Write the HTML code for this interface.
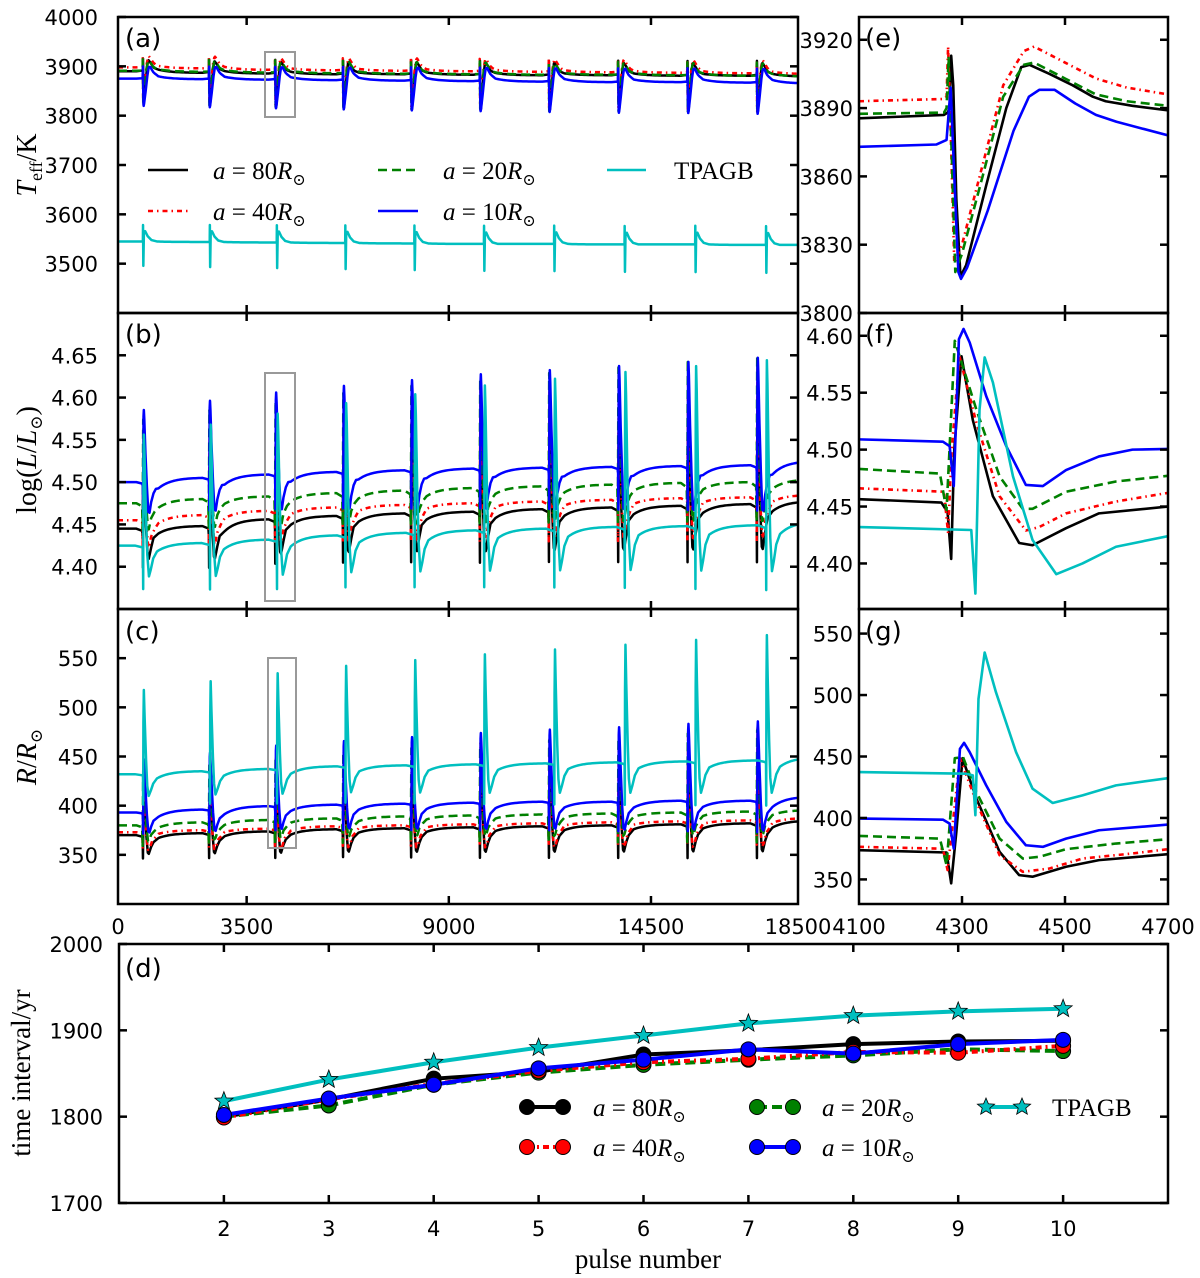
<!DOCTYPE html>
<html><head><meta charset="utf-8">
<style>
html,body{margin:0;padding:0;background:#fff;}
svg{display:block;}
.tk{font-family:"DejaVu Sans","Liberation Sans",sans-serif;font-size:21px;fill:#000;}
.pl{font-family:"DejaVu Sans","Liberation Sans",sans-serif;font-size:26px;fill:#000;}
.sf{font-family:"Liberation Serif","DejaVu Serif",serif;fill:#000;}
</style></head>
<body>
<svg id="fig" width="1200" height="1278" viewBox="0 0 1200 1278" xmlns="http://www.w3.org/2000/svg">
<defs>
<clipPath id="cA"><rect x="118" y="17" width="680" height="296"/></clipPath>
<clipPath id="cB"><rect x="118" y="313" width="680" height="296"/></clipPath>
<clipPath id="cC"><rect x="118" y="609" width="680" height="295"/></clipPath>
<clipPath id="cE"><rect x="859" y="17" width="309" height="296"/></clipPath>
<clipPath id="cF"><rect x="859" y="313" width="309" height="296"/></clipPath>
<clipPath id="cG"><rect x="859" y="609" width="309" height="295"/></clipPath>
<clipPath id="cD"><rect x="119" y="944" width="1049" height="259"/></clipPath>
</defs>
<g id="layer"></g>
</svg>
<script>
// ===== data: pulses =====
const pulseT = [680, 2480, 4280, 6124, 7976, 9848, 11725, 13609, 15496, 17384];
const cyanExtra = [-41, -23, 0, 19, 47, 69, 100, 133, 168, 205];
const ampTeff = [0.95, 0.98, 1, 1.02, 1.04, 1.05, 1.06, 1.07, 1.08, 1.09];
const ampL = [0.88, 0.94, 1, 1.05, 1.1, 1.15, 1.19, 1.23, 1.27, 1.31];
const ampR = [0.88, 0.94, 1, 1.05, 1.1, 1.15, 1.19, 1.23, 1.27, 1.31];

// baselines (pre-pulse levels, 10 pulses + end)
const teffBaseBlack = [3890, 3887, 3885.5, 3884, 3884, 3883, 3882, 3882, 3881, 3881, 3880];
const teffBaseRed   = [3898, 3896, 3893, 3892, 3891, 3890, 3889, 3888, 3887, 3886, 3885];
const teffBaseGreen = [3891, 3889, 3887.5, 3886, 3885, 3884, 3883, 3883, 3882, 3881, 3880];
const teffBaseBlue  = [3875, 3874, 3873, 3872, 3871, 3870, 3869, 3868, 3868, 3867, 3866];
const teffBaseCyan  = [3545, 3544, 3543, 3542, 3541, 3540, 3540, 3539, 3539, 3538, 3538];
const lBaseBlack = [4.445, 4.448, 4.456, 4.460, 4.463, 4.465, 4.468, 4.470, 4.472, 4.474, 4.476];
const lBaseRed   = [4.455, 4.461, 4.466, 4.470, 4.473, 4.475, 4.477, 4.479, 4.481, 4.482, 4.484];
const lBaseGreen = [4.475, 4.480, 4.483, 4.487, 4.490, 4.493, 4.495, 4.497, 4.499, 4.500, 4.502];
const lBaseBlue  = [4.500, 4.505, 4.509, 4.512, 4.514, 4.516, 4.517, 4.518, 4.519, 4.520, 4.523];
const lBaseCyan  = [4.425, 4.428, 4.432, 4.437, 4.440, 4.443, 4.445, 4.447, 4.448, 4.449, 4.450];
const rBaseBlack = [370, 372, 373.8, 376, 377, 378, 379, 380, 381, 382, 384];
const rBaseRed   = [373, 375, 376.5, 379, 380, 381, 382, 383, 384, 385, 387];
const rBaseGreen = [380, 383, 385.4, 387, 389, 390, 391, 392, 393, 394, 395];
const rBaseBlue  = [393, 396, 399.5, 401, 402, 403, 404, 404, 405, 405, 408];
const rBaseCyan  = [432, 435, 437.3, 440, 441, 442, 443, 444, 445, 446, 447];

const teffBlackT = [4100,4265,4272,4276,4279,4283,4289,4297,4308,4347,4386,4415,4431,4470,4515,4554,4579,4631,4700];
const teffBlackV = [3885.5,3887,3888,3890,3913,3900,3850,3816,3821,3856,3890,3908,3909,3905,3900,3895,3893,3891,3889];
const teffRedT = [4100,4265,4270,4273,4278,4285,4300,4340,4380,4420,4440,4500,4560,4620,4700];
const teffRedV = [3893,3894,3895,3917,3880,3822,3830,3865,3900,3915,3917,3910,3903,3899,3896];
const teffGreenT = [4100,4265,4270,4274,4280,4287,4300,4340,4380,4420,4440,4500,4560,4620,4700];
const teffGreenV = [3887.5,3888,3890,3912,3870,3818,3826,3860,3895,3909,3910,3903,3896,3893,3891];
const teffBlueT = [4100,4250,4270,4278,4285,4293,4298,4310,4350,4400,4430,4450,4480,4520,4560,4600,4650,4700];
const teffBlueV = [3873,3874,3876,3899,3860,3818,3815,3820,3845,3880,3895,3898,3898,3892,3887,3884,3881,3878];
const teffCyanT = [4100,4318,4322,4330,4345,4380,4450,4550,4700];
const teffCyanV = [3545,3545,3580,3493,3562,3567,3556,3548,3545];

const lBlackT = [4100,4260,4272,4279,4285,4299,4321,4360,4411,4437,4502,4566,4700];
const lBlackV = [4.4565,4.4535,4.445,4.404,4.50,4.582,4.526,4.459,4.418,4.416,4.431,4.444,4.45];
const lRedT = [4100,4265,4273,4280,4295,4328,4373,4424,4450,4502,4599,4700];
const lRedV = [4.466,4.463,4.4265,4.50,4.582,4.5235,4.459,4.429,4.432,4.444,4.4544,4.462];
const lGreenT = [4100,4257,4270,4286,4328,4373,4418,4437,4502,4599,4700];
const lGreenV = [4.483,4.479,4.447,4.5956,4.535,4.4765,4.448,4.448,4.463,4.472,4.477];
const lBlueT = [4100,4263,4276,4284,4294,4303,4315,4347,4386,4424,4457,4502,4566,4631,4700];
const lBlueV = [4.509,4.507,4.503,4.468,4.597,4.606,4.594,4.547,4.503,4.469,4.468,4.482,4.494,4.50,4.5006];
const lCyanT = [4100,4318,4326,4334,4344,4360,4399,4437,4483,4534,4599,4700];
const lCyanV = [4.432,4.4294,4.3735,4.535,4.581,4.559,4.4765,4.4206,4.3906,4.40,4.4147,4.424];

const rBlackT = [4100,4270,4279,4289,4301,4328,4373,4411,4437,4502,4566,4700];
const rBlackV = [373.8,371.9,346.8,388.6,448.6,415.7,372.4,353.5,352.2,360.3,365.7,370.5];
const rRedT = [4100,4263,4272,4296,4328,4373,4418,4470,4534,4631,4700];
const rRedV = [376.5,375,357.6,448.6,413,369.7,356.2,358.9,367,371.1,374.6];
const rGreenT = [4100,4257,4270,4286,4302,4328,4373,4418,4450,4502,4599,4700];
const rGreenV = [385.4,383.2,361.6,448.6,449.5,421.1,383.2,367,368.4,374.6,379.2,382.7];
const rBlueT = [4100,4263,4276,4284,4296,4304,4315,4347,4386,4424,4457,4502,4566,4700];
const rBlueV = [399.5,398.6,395.4,375.1,456.2,461.1,453.5,426.5,396.8,377.8,376.5,383.2,390,394.6];
const rCyanT = [4100,4308,4321,4326,4332,4344,4366,4405,4437,4476,4534,4599,4700];
const rCyanV = [437.3,436,434.6,402.2,496.8,534.6,502.2,453.5,423.8,412.2,418.4,426.5,432.4];

// panel d
const pulseNum = [2, 3, 4, 5, 6, 7, 8, 9, 10];
const dTpagb = [1818, 1843, 1863, 1880, 1894, 1908, 1917, 1922, 1925];
const d80 = [1800, 1820, 1844, 1852, 1872, 1877, 1884, 1887, 1888];
const d40 = [1799, 1820, 1838, 1853, 1863, 1867, 1875, 1874, 1882];
const d20 = [1800, 1813, 1837, 1851, 1860, 1866, 1871, 1878, 1876];
const d10 = [1802, 1821, 1837, 1856, 1866, 1878, 1873, 1884, 1889];

// tick labels
const leftXTicks = [0, 3500, 9000, 14500, 18500];
const rightXTicks = [4100, 4300, 4500, 4700];
const aYTicks = [3500, 3600, 3700, 3800, 3900, 4000];
const bYTicks = [4.40, 4.45, 4.50, 4.55, 4.60, 4.65];
const cYTicks = [350, 400, 450, 500, 550];
const eYTicks = [3800, 3830, 3860, 3890, 3920];
const fYTicks = [4.40, 4.45, 4.50, 4.55, 4.60];
const gYTicks = [350, 400, 450, 500, 550];
const dYTicks = [1700, 1800, 1900, 2000];

// ===== drawing =====
const NS = "http://www.w3.org/2000/svg";
const layer = document.getElementById('layer');
function mk(tag, attrs, parent) {
  const e = document.createElementNS(NS, tag);
  for (const k in attrs) e.setAttribute(k, attrs[k]);
  (parent || layer).appendChild(e);
  return e;
}
function panel(x0, x1, y0, y1, xd, yd) {
  return {x0, x1, y0, y1,
    sx: v => x0 + (v - xd[0]) / (xd[1] - xd[0]) * (x1 - x0),
    sy: v => y1 - (v - yd[0]) / (yd[1] - yd[0]) * (y1 - y0)};
}
const PA = panel(118, 798, 17, 313, [0, 18500], [3400, 4000]);
const PB = panel(118, 798, 313, 609, [0, 18500], [4.35, 4.70]);
const PC = panel(118, 798, 609, 904, [0, 18500], [300, 600]);
const PE = panel(859, 1168, 17, 313, [4100, 4700], [3800, 3930]);
const PF = panel(859, 1168, 313, 609, [4100, 4700], [4.36, 4.62]);
const PG = panel(859, 1168, 609, 904, [4100, 4700], [330, 570]);
const PD = panel(119, 1168, 944, 1203, [1, 11], [1700, 2000]);

const COL = {black: '#000000', red: '#ff0000', green: '#008000', blue: '#0000ff', cyan: '#00bfbf'};
const DASH = {black: 'none', red: '5,4,1.5,4', green: '9,5', blue: 'none', cyan: 'none'};

function buildLeft(tT, tV, bases, amps, extra) {
  const pts = [[0, bases[0]]];
  const b0 = tV[0];
  for (let i = 0; i < pulseT.length; i++) {
    const Ti = pulseT[i] + (extra ? extra[i] : 0);
    const sh = Ti - 4280;
    let vEnd = 0, tEnd = 0;
    for (let k = 0; k < tT.length; k++) {
      const v = bases[i] + (tV[k] - b0) * amps[i];
      pts.push([tT[k] + sh, v]);
      vEnd = v; tEnd = tT[k] + sh;
    }
    const segEnd = i < pulseT.length - 1 ? pulseT[i + 1] + (extra ? extra[i + 1] : 0) - 180 : 18500;
    const U = segEnd - tEnd;
    if (U > 0) {
      const den = 1 - Math.exp(-U / 350);
      for (let j = 1; j <= 24; j++) {
        const u = U * j / 24;
        const f = (1 - Math.exp(-u / 350)) / den;
        pts.push([tEnd + u, vEnd + (bases[i + 1] - vEnd) * f]);
      }
    }
  }
  return pts;
}
function drawLine(P, pts, color, dash, w, clip, name) {
  const d = pts.map((p, i) => (i ? 'L' : 'M') + P.sx(p[0]).toFixed(2) + ',' + P.sy(p[1]).toFixed(2)).join('');
  const el = mk('path', {d: d, fill: 'none', stroke: COL[color], 'stroke-width': w, 'stroke-dasharray': DASH[color], 'stroke-linejoin': 'round', 'clip-path': 'url(#' + clip + ')'});
  
  
  return el;
}
function zip(T, V) { return T.map((t, i) => [t, V[i]]); }

const order = ['black', 'red', 'green', 'blue', 'cyan'];
const teffSets = {black: [teffBlackT, teffBlackV, teffBaseBlack], red: [teffRedT, teffRedV, teffBaseRed], green: [teffGreenT, teffGreenV, teffBaseGreen], blue: [teffBlueT, teffBlueV, teffBaseBlue], cyan: [teffCyanT, teffCyanV, teffBaseCyan]};
const lSets = {black: [lBlackT, lBlackV, lBaseBlack], red: [lRedT, lRedV, lBaseRed], green: [lGreenT, lGreenV, lBaseGreen], blue: [lBlueT, lBlueV, lBaseBlue], cyan: [lCyanT, lCyanV, lBaseCyan]};
const rSets = {black: [rBlackT, rBlackV, rBaseBlack], red: [rRedT, rRedV, rBaseRed], green: [rGreenT, rGreenV, rBaseGreen], blue: [rBlueT, rBlueV, rBaseBlue], cyan: [rCyanT, rCyanV, rBaseCyan]};
const names = {black: 'a80', red: 'a40', green: 'a20', blue: 'a10', cyan: 'tpagb'};
order.forEach(c => {
  const ex = c === 'cyan' ? cyanExtra : null;
  const s1 = teffSets[c], s2 = lSets[c], s3 = rSets[c];
  drawLine(PA, buildLeft(s1[0], s1[1], s1[2], ampTeff, ex), c, DASH[c], 2.5, 'cA', 'teff-line-' + names[c]);
  drawLine(PB, buildLeft(s2[0], s2[1], s2[2], ampL, ex), c, DASH[c], 2.5, 'cB', 'lum-line-' + names[c]);
  drawLine(PC, buildLeft(s3[0], s3[1], s3[2], ampR, ex), c, DASH[c], 2.5, 'cC', 'radius-line-' + names[c]);
  drawLine(PE, zip(s1[0], s1[1]), c, DASH[c], 2.6, 'cE', 'teff-zoom-line-' + names[c]);
  drawLine(PF, zip(s2[0], s2[1]), c, DASH[c], 2.6, 'cF', 'lum-zoom-line-' + names[c]);
  drawLine(PG, zip(s3[0], s3[1]), c, DASH[c], 2.6, 'cG', 'radius-zoom-line-' + names[c]);
});

[[265, 52, 30, 65], [265, 373, 30, 228], [268, 658, 28, 190]].forEach((b, i) => {
  const r = mk('rect', {x: b[0], y: b[1], width: b[2], height: b[3], fill: 'none', stroke: '#999', 'stroke-width': 2});
  
  
});

const dSets = [['black', d80, 'a80'], ['green', d20, 'a20'], ['red', d40, 'a40'], ['blue', d10, 'a10']];
const tp = mk('path', {d: pulseNum.map((n, i) => (i ? 'L' : 'M') + PD.sx(n) + ',' + PD.sy(dTpagb[i])).join(''), fill: 'none', stroke: COL.cyan, 'stroke-width': 4});


function star(cx, cy, R, r, parent, name) {
  let s = '';
  for (let k = 0; k < 10; k++) {
    const a = -Math.PI / 2 + k * Math.PI / 5;
    const rr = k % 2 ? r : R;
    s += (cx + rr * Math.cos(a)).toFixed(2) + ',' + (cy + rr * Math.sin(a)).toFixed(2) + ' ';
  }
  const el = mk('polygon', {points: s, fill: COL.cyan, stroke: '#000', 'stroke-width': 0.8}, parent);
  
  
}
dSets.forEach(s => {
  const el = mk('path', {d: pulseNum.map((n, i) => (i ? 'L' : 'M') + PD.sx(n) + ',' + PD.sy(s[1][i])).join(''), fill: 'none', stroke: COL[s[0]], 'stroke-width': 4, 'stroke-dasharray': s[0] === 'red' ? '6,4,2,4' : (s[0] === 'green' ? '10,5' : 'none')});
  
  
});
dSets.forEach(s => {
  pulseNum.forEach((n, i) => {
    const c = mk('circle', {cx: PD.sx(n), cy: PD.sy(s[1][i]), r: 7.5, fill: COL[s[0]], stroke: '#000', 'stroke-width': 1});
    
    
  });
});
pulseNum.forEach((n, i) => star(PD.sx(n), PD.sy(dTpagb[i]), 9.5, 4, layer, 'interval-point-tpagb'));

function frame(P, name, yt, xt, fmt, labX, showX, xfmt) {
  const r = mk('rect', {x: P.x0, y: P.y0, width: P.x1 - P.x0, height: P.y1 - P.y0, fill: 'none', stroke: '#000', 'stroke-width': 2.5});
  
  
  yt.forEach(v => {
    const y = P.sy(v);
    mk('line', {x1: P.x0, x2: P.x0 + 8, y1: y, y2: y, stroke: '#000', 'stroke-width': 2.5});
    mk('line', {x1: P.x1 - 8, x2: P.x1, y1: y, y2: y, stroke: '#000', 'stroke-width': 2.5});
    const t = mk('text', {x: labX, y: y + 8, 'text-anchor': 'end', class: 'tk'});
    t.textContent = fmt(v);
    
    
  });
  xt.forEach(v => {
    const x = P.sx(v);
    mk('line', {x1: x, x2: x, y1: P.y0, y2: P.y0 + 8, stroke: '#000', 'stroke-width': 2.5});
    mk('line', {x1: x, x2: x, y1: P.y1 - 8, y2: P.y1, stroke: '#000', 'stroke-width': 2.5});
  });
  if (showX) showX.forEach(v => {
    const t = mk('text', {x: P.sx(v), y: showX.ly, 'text-anchor': 'middle', class: 'tk'});
    t.textContent = xfmt ? xfmt(v) : v;
    
    
  });
}
const f0 = v => String(v), f2 = v => v.toFixed(2);
const inner = [3500, 9000, 14500];
frame(PA, 'panel-a', aYTicks, inner, f0, 98, null);
frame(PB, 'panel-b', bYTicks, inner, f2, 98, null);
const lx = leftXTicks.slice(); lx.ly = 934;
frame(PC, 'panel-c', cYTicks, inner, f0, 98, lx);
frame(PE, 'panel-e', eYTicks, [4300, 4500], f0, 853, null);
frame(PF, 'panel-f', fYTicks, [4300, 4500], f2, 853, null);
const rx = rightXTicks.slice(); rx.ly = 934;
frame(PG, 'panel-g', gYTicks, [4300, 4500], f0, 853, rx);
const dx = pulseNum.slice(); dx.ly = 1236;
frame(PD, 'panel-d', dYTicks, pulseNum, f0, 103, dx);

[['(a)', 125, 47], ['(b)', 125, 343], ['(c)', 125, 640], ['(e)', 865, 47], ['(f)', 865, 343], ['(g)', 865, 640], ['(d)', 125, 977]].forEach(p => {
  const t = mk('text', {x: p[1], y: p[2], class: 'pl'});
  t.textContent = p[0];
  
  
});
</script>
<svg width="1200" height="1278" viewBox="0 0 1200 1278" style="position:absolute;left:0;top:0;" xmlns="http://www.w3.org/2000/svg">
<g>
  <line x1="148" y1="170" x2="188" y2="170" stroke="#000" stroke-width="2.5"/>
  <text class="sf" x="213" y="179" font-size="25"><tspan font-style="italic">a</tspan> = 80<tspan font-style="italic">R</tspan><tspan font-size="16" dy="6">⊙</tspan></text>
  <line x1="148" y1="211" x2="188" y2="211" stroke="#ff0000" stroke-width="2.5" stroke-dasharray="5,4,1.5,4"/>
  <text class="sf" x="213" y="220" font-size="25"><tspan font-style="italic">a</tspan> = 40<tspan font-style="italic">R</tspan><tspan font-size="16" dy="6">⊙</tspan></text>
  <line x1="378" y1="170" x2="418" y2="170" stroke="#008000" stroke-width="2.5" stroke-dasharray="9,5"/>
  <text class="sf" x="443" y="179" font-size="25"><tspan font-style="italic">a</tspan> = 20<tspan font-style="italic">R</tspan><tspan font-size="16" dy="6">⊙</tspan></text>
  <line x1="378" y1="211" x2="418" y2="211" stroke="#0000ff" stroke-width="2.5"/>
  <text class="sf" x="443" y="220" font-size="25"><tspan font-style="italic">a</tspan> = 10<tspan font-style="italic">R</tspan><tspan font-size="16" dy="6">⊙</tspan></text>
  <line x1="607" y1="170" x2="646" y2="170" stroke="#00bfbf" stroke-width="2.5"/>
  <text class="sf" x="674" y="179" font-size="25">TPAGB</text>
</g>
<g>
  <line x1="527" y1="1107" x2="563" y2="1107" stroke="#000" stroke-width="4"/>
  <circle cx="527" cy="1107" r="7.5" fill="#000" stroke="#000"/><circle cx="563" cy="1107" r="7.5" fill="#000" stroke="#000"/>
  <text class="sf" x="593" y="1116" font-size="25"><tspan font-style="italic">a</tspan> = 80<tspan font-style="italic">R</tspan><tspan font-size="16" dy="6">⊙</tspan></text>
  <line x1="527" y1="1147" x2="563" y2="1147" stroke="#ff0000" stroke-width="4" stroke-dasharray="6,4,2,4"/>
  <circle cx="527" cy="1147" r="7.5" fill="#ff0000" stroke="#000"/><circle cx="563" cy="1147" r="7.5" fill="#ff0000" stroke="#000"/>
  <text class="sf" x="593" y="1156" font-size="25"><tspan font-style="italic">a</tspan> = 40<tspan font-style="italic">R</tspan><tspan font-size="16" dy="6">⊙</tspan></text>
  <line x1="757" y1="1107" x2="793" y2="1107" stroke="#008000" stroke-width="4" stroke-dasharray="10,5"/>
  <circle cx="757" cy="1107" r="7.5" fill="#008000" stroke="#000"/><circle cx="793" cy="1107" r="7.5" fill="#008000" stroke="#000"/>
  <text class="sf" x="822" y="1116" font-size="25"><tspan font-style="italic">a</tspan> = 20<tspan font-style="italic">R</tspan><tspan font-size="16" dy="6">⊙</tspan></text>
  <line x1="757" y1="1147" x2="793" y2="1147" stroke="#0000ff" stroke-width="4"/>
  <circle cx="757" cy="1147" r="7.5" fill="#0000ff" stroke="#000"/><circle cx="793" cy="1147" r="7.5" fill="#0000ff" stroke="#000"/>
  <text class="sf" x="822" y="1156" font-size="25"><tspan font-style="italic">a</tspan> = 10<tspan font-style="italic">R</tspan><tspan font-size="16" dy="6">⊙</tspan></text>
  <line x1="986" y1="1107" x2="1022" y2="1107" stroke="#00bfbf" stroke-width="4"/>
  <polygon points="986,1098 988.4,1103.8 994.6,1104.2 989.8,1108.1 991.3,1114.2 986,1110.9 980.7,1114.2 982.2,1108.1 977.4,1104.2 983.6,1103.8" fill="#00bfbf" stroke="#000" stroke-width="0.8"/>
  <polygon points="1022,1098 1024.4,1103.8 1030.6,1104.2 1025.8,1108.1 1027.3,1114.2 1022,1110.9 1016.7,1114.2 1018.2,1108.1 1013.4,1104.2 1019.6,1103.8" fill="#00bfbf" stroke="#000" stroke-width="0.8"/>
  <text class="sf" x="1052" y="1116" font-size="25">TPAGB</text>
</g>
<text class="sf" transform="translate(36,165) rotate(-90)" text-anchor="middle" font-size="28"><tspan font-style="italic">T</tspan><tspan font-size="18" dy="6">eff</tspan><tspan dy="-6">/K</tspan></text>
<text class="sf" transform="translate(36,460) rotate(-90)" text-anchor="middle" font-size="28">log(<tspan font-style="italic">L</tspan>/<tspan font-style="italic">L</tspan><tspan font-size="17" dy="6">⊙</tspan><tspan dy="-6">)</tspan></text>
<text class="sf" transform="translate(36,757) rotate(-90)" text-anchor="middle" font-size="28"><tspan font-style="italic">R</tspan>/<tspan font-style="italic">R</tspan><tspan font-size="17" dy="6">⊙</tspan></text>
<text class="sf" transform="translate(30,1073) rotate(-90)" text-anchor="middle" font-size="27">time interval/yr</text>
<text class="sf" x="648" y="1268" text-anchor="middle" font-size="27">pulse number</text>
</svg>
</body></html>
